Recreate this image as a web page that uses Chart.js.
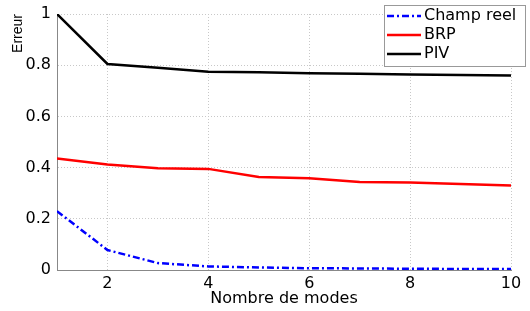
<!DOCTYPE html>
<html lang="fr">
<head>
  <meta charset="UTF-8" />
  <title>Erreur vs nombre de modes</title>
  <script src="https://cdn.jsdelivr.net/npm/chart.js"></script>
  <style>
    html, body { margin: 0; padding: 0; background: #fff; }
    #wrap { width: 530px; height: 311px; }
  </style>
</head>
<body>
  <div id="wrap"><canvas id="chart" width="530" height="311"></canvas></div>
  <script>
    // data
    const modes = [1, 2, 3, 4, 5, 6, 7, 8, 9, 10];
    const champReel = [0.230, 0.078, 0.027, 0.014, 0.010, 0.007, 0.006, 0.005, 0.004, 0.004];
    const brp = [0.436, 0.412, 0.397, 0.395, 0.363, 0.358, 0.344, 0.342, 0.336, 0.330];
    const piv = [1.000, 0.805, 0.790, 0.774, 0.772, 0.769, 0.767, 0.764, 0.762, 0.760];
    const xTicks = [2, 4, 6, 8, 10];
    const seriesNames = ['Champ reel', 'BRP', 'PIV'];

    const pts = arr => modes.map((m, i) => ({ x: m, y: arr[i] }));

    // legend box drawn inside the plot, top right (like the matlab one)
    const boxLegend = {
      id: 'boxLegend',
      afterDraw(chart) {
        const ctx = chart.ctx;
        const x0 = 384, y0 = 5, w = 141, h = 61;
        ctx.save();
        ctx.fillStyle = '#fff';
        ctx.fillRect(x0, y0, w, h);
        ctx.strokeStyle = '#999';
        ctx.lineWidth = 1;
        ctx.strokeRect(x0 + 0.5, y0 + 0.5, w, h);
        ctx.font = '16px "DejaVu Sans"';
        ctx.textBaseline = 'middle';
        chart.data.datasets.forEach((ds, i) => {
          const yy = y0 + 11 + i * 19;
          ctx.strokeStyle = ds.borderColor;
          ctx.lineWidth = ds.borderWidth;
          ctx.setLineDash(ds.borderDash || []);
          ctx.beginPath();
          ctx.moveTo(x0 + 3, yy);
          ctx.lineTo(x0 + 37, yy);
          ctx.stroke();
          ctx.setLineDash([]);
          ctx.fillStyle = '#000';
          ctx.fillText(ds.label, x0 + 40, yy);
        });
        ctx.restore();
      }
    };

    new Chart(document.getElementById('chart'), {
      type: 'line',
      data: {
        datasets: [
          { label: seriesNames[0], data: pts(champReel), borderColor: '#0000ff', borderWidth: 2.5, borderDash: [7, 3, 2, 3] },
          { label: seriesNames[1], data: pts(brp), borderColor: '#ff0000', borderWidth: 2.5 },
          { label: seriesNames[2], data: pts(piv), borderColor: '#000000', borderWidth: 2.5 }
        ]
      },
      options: {
        responsive: false,
        animation: false,
        layout: { padding: { left: 0, right: 19, top: 12, bottom: 0 } },
        elements: { point: { radius: 0 }, line: { tension: 0 } },
        plugins: { legend: { display: false }, tooltip: { enabled: false } },
        scales: {
          x: {
            type: 'linear',
            min: 1, max: 10,
            afterBuildTicks: s => { s.ticks = xTicks.map(v => ({ value: v })); },
            afterFit: s => { s.height = 41; },
            grid: { color: '#c8c8c8', drawTicks: false },
            border: { color: '#888', dash: [1, 2] },
            ticks: { color: '#000', padding: 4, font: { family: 'DejaVu Sans', size: 16 }, maxRotation: 0 },
            title: { display: true, text: 'Nombre de modes', color: '#000', font: { family: 'DejaVu Sans', size: 16 }, padding: { top: 0, bottom: 3 } }
          },
          y: {
            min: 0, max: 1,
            afterFit: s => { s.width = 57; },
            grid: { color: '#c8c8c8', drawTicks: false },
            border: { color: '#888', dash: [1, 2] },
            ticks: {
              stepSize: 0.2, color: '#000', padding: 6,
              font: { family: 'DejaVu Sans', size: 16, lineHeight: 1 },
              callback: v => String(Number(v.toFixed(1)))
            },
            title: { display: true, text: 'Erreur', align: 'end', color: '#000', font: { family: 'Liberation Sans', size: 14 }, padding: { top: 10, bottom: 0 } }
          }
        }
      },
      plugins: [boxLegend]
    });
  </script>
</body>
</html>
